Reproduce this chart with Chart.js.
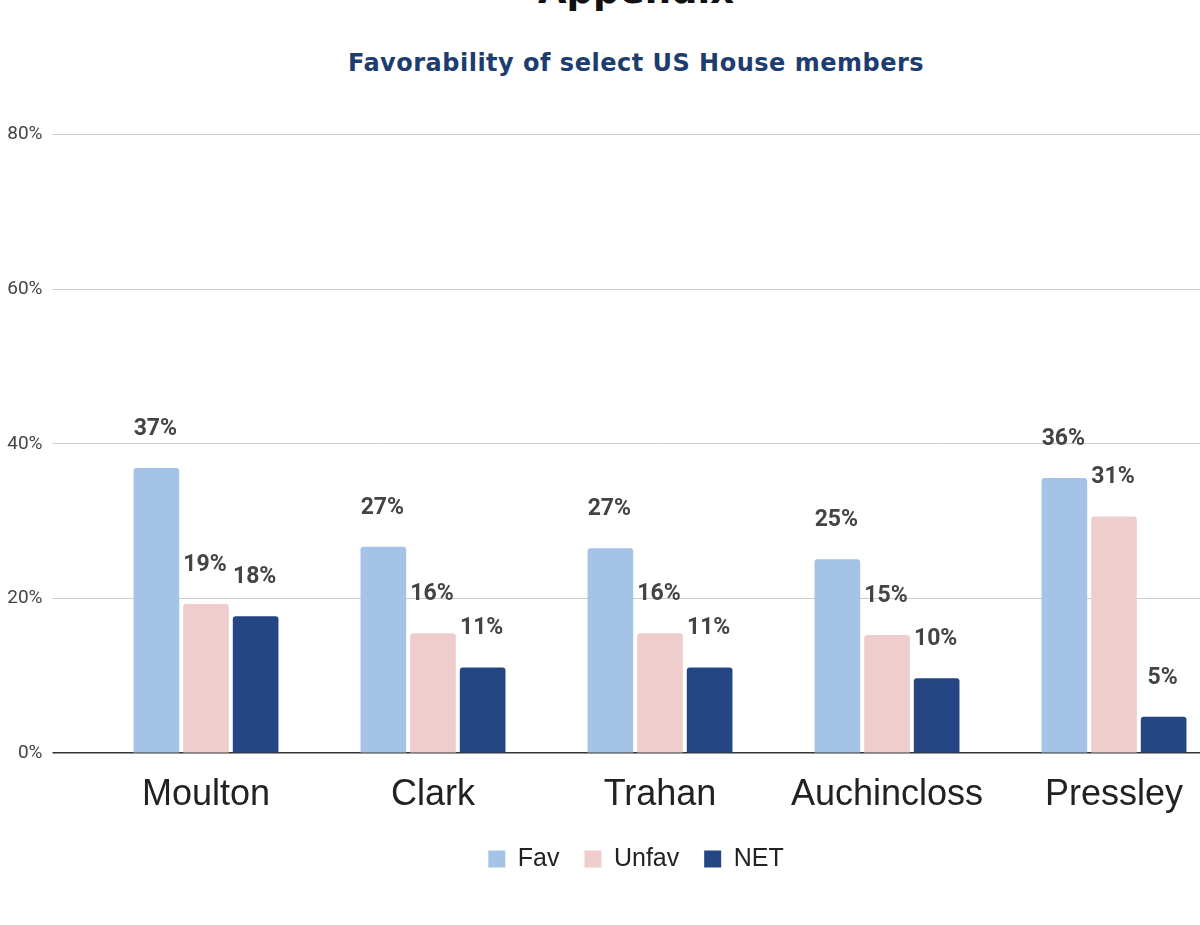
<!DOCTYPE html>
<html>
<head>
<meta charset="utf-8">
<script src="https://cdn.jsdelivr.net/npm/chart.js@4.4.1/dist/chart.umd.min.js"></script>
<style>
  html, body { margin: 0; padding: 0; background: #fff; overflow: hidden; width: 1200px; height: 925px; }
  #wrap { position: relative; width: 1272px; height: 925px; }
  #appendix { position: absolute; left: 0; width: 1272px; top: -34px; text-align: center;
    font-family: "DejaVu Sans", sans-serif; font-weight: bold; font-size: 37px; color: #111; line-height: 50px; }
  #title { position: absolute; left: 0; width: 1272px; top: 47px; text-align: center;
    font-family: "DejaVu Sans", sans-serif; font-weight: bold; font-size: 24px; letter-spacing: 0.5px; color: #1c3d6e; line-height: 32px; }
  #c { position: absolute; left: 0; top: 0; }
</style>
</head>
<body>
<div id="wrap">
  <div id="appendix">Appendix</div>
  <div id="title">Favorability of select US House members</div>
  <canvas id="c" width="1272" height="925"></canvas>
</div>
<script>
const categories = ["Moulton", "Clark", "Trahan", "Auchincloss", "Pressley"];
const favValues = [36.9, 26.7, 26.5, 25.1, 35.6];
const unfavValues = [19.3, 15.5, 15.5, 15.3, 30.6];
const netValues = [17.7, 11.1, 11.1, 9.7, 4.7];
const yTicks = [0, 20, 40, 60, 80];

const valueLabels = {
  id: 'valueLabels',
  afterDatasetsDraw(chart) {
    const ctx = chart.ctx;
    ctx.save();
    ctx.font = 'bold 23px Roboto';
    ctx.fillStyle = '#444444';
    ctx.textAlign = 'center';
    ctx.textBaseline = 'middle';
    chart.data.datasets.forEach((ds, i) => {
      const meta = chart.getDatasetMeta(i);
      meta.data.forEach((bar, j) => {
        ctx.fillText(Math.round(ds.data[j]) + '%', bar.x - 1, bar.y - 39);
      });
    });
    ctx.restore();
  }
};

new Chart(document.getElementById('c'), {
  type: 'bar',
  data: {
    labels: categories,
    datasets: [
      { label: 'Fav', data: favValues, backgroundColor: '#a5c3e7' },
      { label: 'Unfav', data: unfavValues, backgroundColor: '#efcdcd' },
      { label: 'NET', data: netValues, backgroundColor: '#244683' }
    ]
  },
  options: {
    responsive: false,
    animation: false,
    layout: { padding: { top: 134.7, left: 0, right: 0, bottom: 43.6 } },
    datasets: { bar: { categoryPercentage: 0.656, barPercentage: 0.92, borderRadius: 3 } },
    plugins: {
      title: { display: false },
      tooltip: { enabled: false },
      legend: {
        position: 'bottom',
        labels: {
          boxWidth: 17, boxHeight: 17, padding: 18,
          color: '#222222',
          font: { family: 'Liberation Sans', size: 25 },
          generateLabels(chart) {
            const items = Chart.defaults.plugins.legend.labels.generateLabels(chart);
            items.forEach((it, i) => { if (i < items.length - 1) it.text = it.text + ' '; });
            return items;
          }
        }
      }
    },
    scales: {
      x: {
        grid: { display: false },
        border: { display: false },
        ticks: { color: '#222222', padding: 12, font: { family: 'Liberation Sans', size: 36 } }
      },
      y: {
        min: 0, max: 80,
        afterBuildTicks(scale) { scale.ticks = yTicks.map(v => ({ value: v })); },
        afterFit(scale) { scale.width = 92.5; },
        border: { display: false },
        grid: {
          color: ctx => (ctx.tick && ctx.tick.value === 0) ? '#333333' : '#cccccc',
          lineWidth: ctx => (ctx.tick && ctx.tick.value === 0) ? 1.5 : 1,
          tickLength: 40
        },
        ticks: {
          padding: 10,
          color: '#444444',
          font: { family: 'Roboto', size: 19 },
          callback: v => v + '%'
        }
      },
      yRight: {
        position: 'right',
        min: 0, max: 80,
        afterFit(scale) { scale.width = 44.5; },
        border: { display: false },
        grid: { display: false },
        ticks: { display: false }
      }
    }
  },
  plugins: [valueLabels]
});
</script>
</body>
</html>
